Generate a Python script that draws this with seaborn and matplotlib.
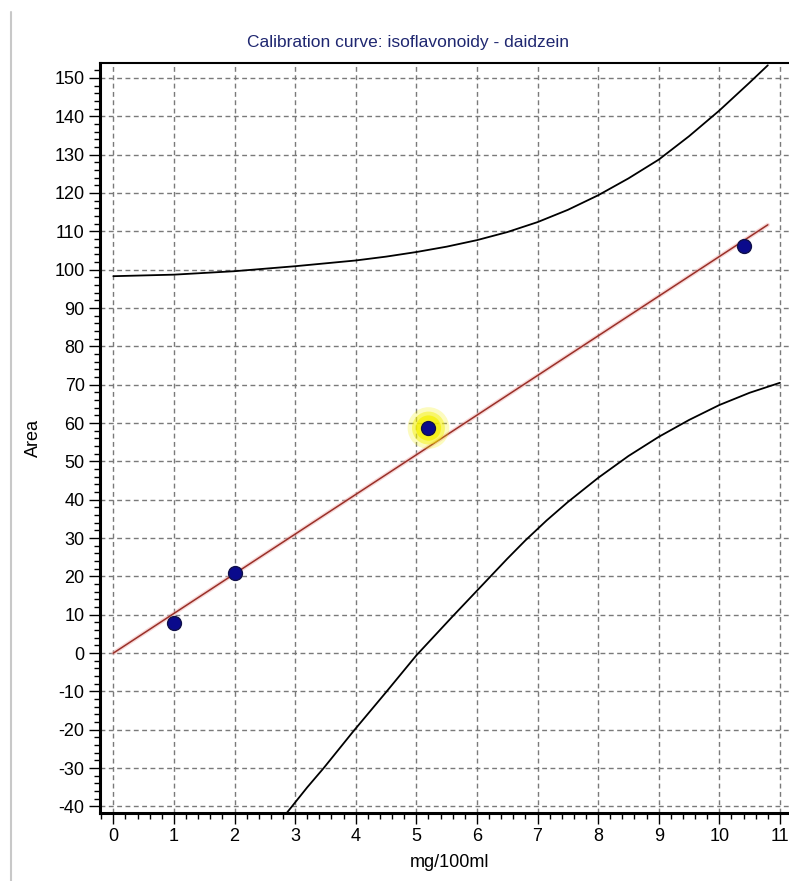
import numpy as np
import pandas as pd
import seaborn as sns
import matplotlib.pyplot as plt
from matplotlib.lines import Line2D
from matplotlib.ticker import MultipleLocator

# measured standards
conc = [1.0, 2.0, 5.2, 10.4]
area = [7.9, 20.8, 58.7, 106.1]
highlight = [False, False, True, False]

# calibration line
fit_x = [0.0, 10.8]
fit_y = [0.0, 111.7]

# upper and lower band curves
upper_x = [0, 1, 2, 3, 4, 4.5, 5, 5.5, 6, 6.5, 7, 7.5, 8, 8.5, 9, 9.5, 10,
           10.5, 10.8]
upper_y = [98.3, 98.7, 99.6, 100.9, 102.4, 103.4, 104.6, 106.0, 107.7, 109.8,
           112.4, 115.6, 119.4, 123.8, 128.7, 134.8, 141.5, 148.8, 153.3]
lower_x = [2.82, 3.2, 3.47, 3.96, 4.5, 5.0, 5.6, 6.2, 6.5, 6.8, 7.15, 7.5, 8,
           8.5, 9, 9.5, 10, 10.5, 11.0]
lower_y = [-42.5, -35.0, -30.0, -20.4, -10.2, -0.6, 9.6, 19.6, 24.6, 29.4,
           34.6, 39.4, 45.7, 51.4, 56.4, 60.8, 64.7, 67.9, 70.5]

x_ticks = list(range(0, 12))
y_ticks = list(range(-40, 151, 10))

sns.set_style("white", {"text.color": "black", "axes.labelcolor": "black",
                        "xtick.color": "black", "ytick.color": "black"})
plt.rcParams["font.family"] = ["Liberation Sans", "DejaVu Sans"]
plt.rcParams["axes.unicode_minus"] = False

fig = plt.figure(figsize=(7.89, 8.81), dpi=100)
ax = fig.add_axes([100 / 789, 68 / 881, 700 / 789, 750 / 881])

pts = pd.DataFrame({"conc": conc, "area": area, "hl": highlight})
up = pd.DataFrame({"x": upper_x, "y": upper_y})
lo = pd.DataFrame({"x": lower_x, "y": lower_y})
fit = pd.DataFrame({"x": fit_x, "y": fit_y})

# grid
for t in x_ticks:
    ax.axvline(t, color="#7a7a7a", lw=1.0, ls=(0, (3.5, 2.5)), zorder=0)
for t in y_ticks:
    ax.axhline(t, color="#7a7a7a", lw=1.0, ls=(0, (3.5, 2.5)), zorder=0)

sns.lineplot(data=up, x="x", y="y", color="black", lw=1.3, sort=False,
             estimator=None, ax=ax, zorder=3)
sns.lineplot(data=lo, x="x", y="y", color="black", lw=1.3, sort=False,
             estimator=None, ax=ax, zorder=3)
sns.lineplot(data=fit, x="x", y="y", color="#f0b0b0", lw=3, sort=False,
             estimator=None, ax=ax, zorder=3, alpha=0.5)
sns.lineplot(data=fit, x="x", y="y", color="#9a3028", lw=1.1, sort=False,
             estimator=None, ax=ax, zorder=4)

# yellow glow on the flagged point
hl = pts[pts.hl]
for s, a in [(900, 0.25), (560, 0.45), (330, 0.7)]:
    sns.scatterplot(data=hl, x="conc", y="area", s=s, color="#f4f000",
                    alpha=a, edgecolor="none", ax=ax, zorder=5, legend=False)
sns.scatterplot(data=pts, x="conc", y="area", s=100, color="#0a0a8c",
                edgecolor="#10104a", linewidth=1, ax=ax, zorder=6, legend=False)

ax.set_xlim(-0.22, -0.22 + 700 / 60.6)
ax.set_ylim(-41.7, 153.9)
ax.set_xticks(x_ticks)
ax.set_yticks(y_ticks)
ax.xaxis.set_minor_locator(MultipleLocator(0.2))
ax.yaxis.set_minor_locator(MultipleLocator(2))
ax.tick_params(which="major", direction="out", length=8, width=1,
               labelsize=13, color="black", labelcolor="black", pad=3,
               left=True, bottom=True)
ax.tick_params(which="minor", direction="out", length=4, width=1,
               color="black", left=True, bottom=True)

for side in ["left", "bottom"]:
    ax.spines[side].set_linewidth(2.2)
    ax.spines[side].set_color("black")
ax.spines["top"].set_linewidth(1.5)
ax.spines["top"].set_color("black")
ax.spines["right"].set_visible(False)

ax.set_xlabel("mg/100ml", fontsize=13, labelpad=6, color="black")
ax.set_ylabel("Area", fontsize=13, labelpad=9, color="black")
fig.text(408 / 789, 1 - 42 / 881, "Calibration curve: isoflavonoidy - daidzein",
         ha="center", va="center", fontsize=12.5, color="#1f2770")

# window border at the left
fig.add_artist(Line2D([11 / 789, 11 / 789], [0.0, 1 - 12 / 881],
                      transform=fig.transFigure, color="#c8c8c8", lw=1.5))

fig.savefig("out.png", dpi=100, facecolor="white")
